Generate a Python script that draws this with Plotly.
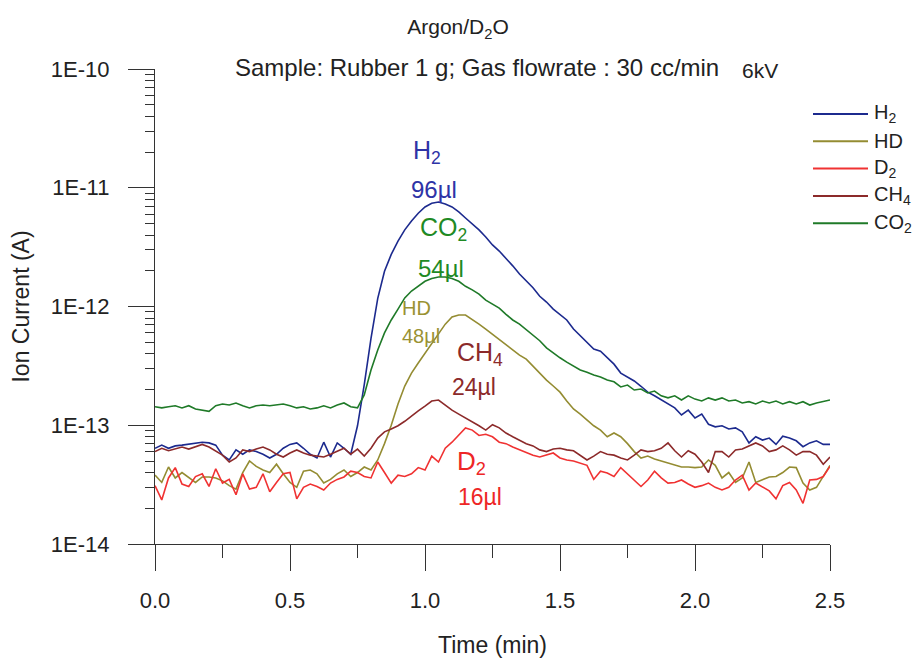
import math
import plotly.graph_objects as go

# ---------------- data (ion current in units of 1e-14 A) ----------------
time_min = [round(i * 0.025, 3) for i in range(101)]  # sampling grid 0 … 2.5 min

h2 = [6.4, 6.8, 6.4, 6.7, 6.8, 6.9, 7.1, 7.2, 7.1, 6.8, 5.6,
      5.1, 6.2, 5.7, 6.2, 6.0, 5.7, 5.3, 5.7, 6.4, 6.9,
      7.1, 6.4, 5.7, 5.3, 7.2, 5.4, 7.1, 6.4, 5.7, 9.9,
      22, 54, 117, 198, 275, 356, 442, 525, 610, 689,
      740, 759, 731, 689, 626, 556, 495, 442, 385, 330,
      293, 256, 220, 188, 164, 144, 122, 109, 95, 85,
      77, 64.6, 56.6, 49.3, 43.8, 42.1, 36.8, 32.7, 27.5, 25.5,
      23.6, 21.3, 19.0, 17.7, 16.3, 15.1, 14.0, 12.2, 13.4, 11.5,
      12.4, 10.2, 9.7, 9.9, 9.3, 9.5, 8.8, 7.1, 8.0, 7.5,
      7.8, 6.9, 8.1, 7.8, 7.4, 6.6, 7.1, 7.4, 6.9, 6.9]

hd = [3.8, 3.3, 4.45, 3.6, 4.0, 3.6, 3.3, 3.67, 3.67, 3.6, 3.4,
      3.1, 2.9, 4.0, 5.0, 4.5, 4.2, 4.0, 4.7, 3.9, 3.3,
      3.0, 4.1, 4.2, 3.9, 3.26, 3.5, 3.9, 4.2, 3.7, 4.0,
      4.45, 4.2, 5.1, 7.0, 10, 15.1, 21.4, 27.5, 33.4, 40.5,
      48.5, 60, 71, 81.6, 84.8, 84.8, 78, 71, 64.6, 58.5,
      53, 47.5, 43, 39, 36, 31.5, 27, 24, 21.4, 19,
      16, 13.7, 12.4, 11.1, 9.9, 9.1, 8.0, 8.6, 8.0, 7.0,
      6.0, 5.3, 5.5, 5.2, 5.0, 4.8, 4.6, 4.45, 4.45, 4.4,
      4.45, 5.1, 4.6, 3.6, 4.0, 3.3, 3.6, 4.9, 3.3, 3.5,
      3.67, 3.7, 4.0, 4.45, 4.4, 3.26, 2.85, 3.0, 3.67, 4.6]

d2 = [3.1, 2.35, 3.6, 4.4, 3.2, 3.05, 3.7, 3.9, 3.05, 4.3, 3.26,
      3.5, 2.6, 3.9, 2.9, 3.0, 3.9, 2.75, 3.3, 3.9, 4.0,
      2.4, 3.0, 3.2, 3.05, 2.85, 3.26, 3.5, 3.67, 4.1, 4.0,
      3.7, 3.6, 4.9, 4.0, 3.26, 3.8, 3.7, 3.9, 4.4, 4.2,
      5.5, 4.9, 6.4, 7.2, 8.2, 9.5, 9.1, 8.2, 8.4, 8.0,
      7.2, 7.0, 6.56, 6.2, 5.84, 5.6, 5.4, 5.6, 5.84, 5.3,
      5.1, 5.0, 4.8, 4.6, 3.5, 4.1, 3.96, 3.7, 4.4, 3.9,
      3.46, 3.05, 3.46, 4.1, 3.6, 3.26, 3.3, 3.46, 3.2, 3.0,
      3.1, 3.26, 3.0, 2.85, 3.0, 3.46, 3.8, 2.85, 3.26, 3.0,
      2.8, 2.4, 3.1, 3.3, 2.85, 2.2, 3.46, 3.5, 3.7, 4.5]

ch4 = [6.0, 6.4, 6.1, 6.3, 6.56, 6.3, 6.56, 6.9, 6.56, 6.1, 5.6,
       4.9, 5.3, 6.2, 6.0, 6.3, 6.56, 6.2, 5.7, 5.4, 5.84,
       6.2, 5.84, 5.6, 5.5, 5.4, 5.7, 6.0, 6.4, 5.7, 6.3,
       5.5, 6.4, 7.8, 8.8, 9.3, 9.9, 10.8, 12, 13.2, 14.5,
       16, 16.3, 14.8, 13.4, 12.4, 11.5, 10.8, 9.9, 9.1, 10.1,
       9.5, 8.6, 8.0, 7.5, 7.0, 6.7, 6.2, 6.0, 6.3, 6.4,
       6.2, 6.1, 5.6, 5.1, 5.5, 6.0, 5.7, 5.6, 5.3, 5.1,
       5.6, 6.2, 6.0, 6.1, 6.4, 7.1, 6.1, 5.4, 6.1, 5.7,
       4.9, 4.0, 6.0, 6.0, 5.4, 6.2, 6.3, 6.7, 7.1, 6.7,
       6.0, 6.2, 6.7, 6.2, 5.6, 6.0, 6.0, 5.6, 4.7, 5.4]

co2 = [14.3, 14.0, 14.3, 14.6, 14.0, 14.6, 13.7, 13.4, 13.1, 14.6, 15.1,
       14.8, 15.4, 14.6, 14.0, 14.6, 14.8, 14.6, 14.8, 15.1, 14.6,
       14.0, 14.3, 13.7, 14.0, 14.6, 14.0, 14.8, 15.4, 14.3, 14.0,
       18.0, 29.2, 43, 60, 77, 95, 118, 135, 148, 163,
       172, 177, 177, 172, 163, 148, 138, 127, 113, 105,
       97, 86, 77, 71, 64, 57, 51.5, 44.8, 40.5, 37,
       34, 31.5, 29.2, 28, 26.5, 25.5, 24, 23.2, 21.0, 21.8,
       19.8, 20.2, 18.7, 19.4, 17.7, 17.0, 17.7, 16.3, 17.7, 16.6,
       16.0, 17.0, 16.3, 17.0, 16.0, 16.3, 15.4, 15.8, 15.1, 16.0,
       15.4, 16.0, 15.1, 15.8, 15.1, 15.8, 14.8, 15.4, 15.8, 16.3]

UNIT = 1e-14  # values above are multiples of 1e-14 A

series_names = ["H<sub>2</sub>", "HD", "D<sub>2</sub>", "CH<sub>4</sub>", "CO<sub>2</sub>"]
series_values = [h2, hd, d2, ch4, co2]
series_colors = ["#1c2a8e", "#948c32", "#f03232", "#8c2a2a", "#1f7a28"]

y_tick_vals = [1e-14, 1e-13, 1e-12, 1e-11, 1e-10]
y_tick_text = ["1E-14", "1E-13", "1E-12", "1E-11", "1E-10"]

# peak labels: (text, time, current, colour, size)
peak_labels = [
    ("H<sub>2</sub>", 1.007, 2.0e-11, "#2e33a6", 25),
    ("96µl", 1.035, 9.7e-12, "#2e33a6", 24),
    ("CO<sub>2</sub>", 1.067, 4.5e-12, "#1f8a24", 25),
    ("54µl", 1.059, 2.1e-12, "#1f8a24", 24),
    ("HD", 0.97, 9.8e-13, "#9a9232", 20),
    ("48µl", 0.985, 5.6e-13, "#9a9232", 20),
    ("CH<sub>4</sub>", 1.204, 4.0e-13, "#8c2a2a", 25),
    ("24µl", 1.183, 2.1e-13, "#8c2a2a", 23),
    ("D<sub>2</sub>", 1.174, 4.9e-14, "#ee2626", 26),
    ("16µl", 1.204, 2.5e-14, "#ee2626", 23),
]

FONT = "Liberation Sans, Arial, sans-serif"
AX = "#333333"

# The page keeps the browser's default 8px body margin, so the figure is drawn
# 8px smaller and every target page position is shifted by that offset.
OFF = 8
PAGE_W, PAGE_H = 920, 658
W, H = PAGE_W - OFF, PAGE_H - OFF
# target plot area on the page: x 155..830, y 69..544
L, T = 155 - OFF, 69 - OFF
R, B = PAGE_W - 830, PAGE_H - 544
PW, PH = W - L - R, H - T - B


def px_to_paper(px, py):
    """page pixel -> paper coordinate of the plot area"""
    return (px - OFF - L) / PW, (H - B - (py - OFF)) / PH


fig = go.Figure()
for name, vals, col in zip(series_names, series_values, series_colors):
    fig.add_trace(go.Scatter(
        x=time_min[:len(vals)], y=[v * UNIT for v in vals], mode="lines",
        name=name, line=dict(color=col, width=1.6), showlegend=False))

minor_y = [k * 10.0 ** e for e in range(-14, -10) for k in range(2, 10)]

fig.update_layout(
    width=W, height=H, autosize=False, showlegend=False,
    margin=dict(l=L, r=R, t=T, b=B),
    paper_bgcolor="white", plot_bgcolor="white",
    font=dict(family=FONT, size=22, color="#222"),
    title=dict(text="Argon/D<sub>2</sub>O", x=(458 - OFF) / W, xanchor="center",
               y=1 - (27 - OFF) / H, yanchor="middle", font=dict(size=21, color="#222")),
    xaxis=dict(range=[0, 2.5], dtick=0.5, tickformat=".1f", automargin=False,
               showline=True, linecolor=AX, linewidth=1.3, showgrid=False, zeroline=False,
               ticks="outside", ticklen=26, tickcolor=AX, tickwidth=1.3,
               ticklabelstandoff=10, tickfont=dict(size=22),
               minor=dict(ticks="outside", ticklen=13, dtick=0.25, tickcolor=AX, tickwidth=1.3),
               title=dict(text="Time (min)", font=dict(size=23), standoff=28)),
    yaxis=dict(type="log", range=[-14, -10], tickmode="array", automargin=False,
               tickvals=y_tick_vals, ticktext=y_tick_text,
               showline=True, linecolor=AX, linewidth=1.3, showgrid=False, zeroline=False,
               ticks="outside", ticklen=26, tickcolor=AX, tickwidth=1.3,
               ticklabelstandoff=14, tickfont=dict(size=22),
               minor=dict(ticks="outside", ticklen=9, tickmode="array", tickvals=minor_y,
                          tickcolor=AX, tickwidth=1.1),
               title=dict(text="Ion Current (A)", font=dict(size=23), standoff=14)),
)

# legend (drawn as key lines + labels so its geometry matches the original figure)
LEG_X0, LEG_X1, LEG_TXT, LEG_Y0, LEG_DY = 813, 868, 872, 114, 27.3
for i, (name, col) in enumerate(zip(series_names, series_colors)):
    yy = LEG_Y0 + i * LEG_DY
    x0, y0 = px_to_paper(LEG_X0, yy)
    x1, _ = px_to_paper(LEG_X1, yy)
    fig.add_shape(type="line", xref="paper", yref="paper", x0=x0, x1=x1, y0=y0, y1=y0,
                  line=dict(color=col, width=2))
    tx, _ = px_to_paper(LEG_TXT, yy)
    fig.add_annotation(x=tx, y=y0, xref="paper", yref="paper", text=name,
                       showarrow=False, xanchor="left", yanchor="middle",
                       font=dict(size=20, color="#222"))

for txt, tx, cy, col, sz in peak_labels:
    fig.add_annotation(x=tx, y=math.log10(cy), xref="x", yref="y", text=txt,
                       showarrow=False, font=dict(color=col, size=sz),
                       xanchor="center", yanchor="middle")

sx, sy = px_to_paper(233, 68)
fig.add_annotation(x=sx, y=sy, xref="paper", yref="paper",
                   text="Sample: Rubber 1 g; Gas flowrate : 30 cc/min",
                   showarrow=False, xanchor="left", yanchor="middle",
                   font=dict(size=24, color="#222"))
kx, ky = px_to_paper(740, 71)
fig.add_annotation(x=kx, y=ky, xref="paper", yref="paper", text="6kV",
                   showarrow=False, xanchor="left", yanchor="middle",
                   font=dict(size=21, color="#222"))

fig.write_html("out.html", config={"displayModeBar": False, "responsive": False})
